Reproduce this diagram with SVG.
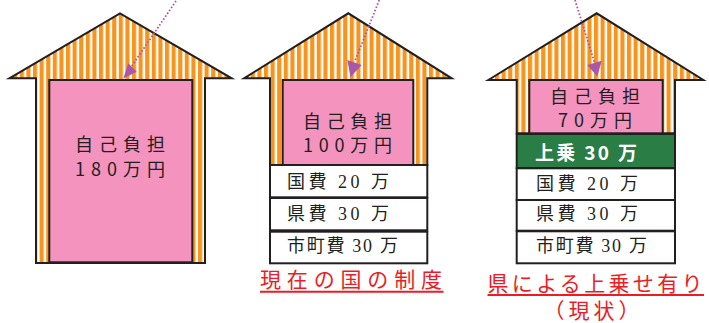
<svg xmlns="http://www.w3.org/2000/svg" width="709" height="323" viewBox="0 0 709 323">
<defs>
<pattern id="stripes" patternUnits="userSpaceOnUse" x="0" y="0" width="6.6" height="10">
<rect x="0" y="0" width="6.6" height="10" fill="#ffffff"/>
<rect x="0" y="0" width="3.8" height="10" fill="#f7941d"/>
<rect x="3.8" y="0" width="0.7" height="10" fill="#fbc88a"/>
</pattern>
<style>
.house{fill:url(#stripes);stroke:#231f20;stroke-width:2;stroke-linejoin:miter}
.pink{fill:#f393be;stroke:#231f20;stroke-width:2}
.box{fill:#ffffff;stroke:#231f20;stroke-width:2}
.green{fill:#2a7d45;stroke:#231f20;stroke-width:2}
.jp{font-family:"Noto Sans CJK JP","Noto Sans",sans-serif;font-size:18px;fill:#231f20}
.min{font-family:"Liberation Serif","Noto Sans CJK JP",serif;font-size:18px;fill:#231f20}
.wt{font-family:"Noto Sans CJK JP","Noto Sans",sans-serif;font-size:19px;font-weight:bold;fill:#ffffff}
.red{font-family:"Noto Sans CJK JP","Noto Sans",sans-serif;font-size:21px;fill:#ed1c24}
.ul{stroke:#ed1c24;stroke-width:2}
.dot{stroke:#a857a8;stroke-width:1.8;stroke-dasharray:1.6 1.9;fill:none}
.head{fill:#a958a8}
</style>
</defs>

<g id="house1">
<polygon class="house" points="9.3,78.3 120,13.3 231.7,78.3 205,78.3 205,263 36,263 36,78.3"/>
<rect class="pink" x="49.3" y="80" width="143" height="182.3"/>
<text class="jp" x="75" y="151" textLength="90" lengthAdjust="spacing">自己負担</text>
<text class="jp" x="75" y="175.5" textLength="90" lengthAdjust="spacing">180万円</text>
</g>

<g id="house2">
<polygon class="house" points="244,78.3 348.3,13.3 451.7,78.3 427.3,78.3 427.3,165 270,165 270,78.3"/>
<rect class="pink" x="282.7" y="80" width="130.6" height="85"/>
<text class="jp" x="303" y="128" textLength="89" lengthAdjust="spacing">自己負担</text>
<text class="jp" x="303" y="151.5" textLength="89" lengthAdjust="spacing">100万円</text>
</g>

<g id="box2-kuni">
<rect class="box" x="270" y="165" width="157.3" height="32.3"/>
<text class="min" x="287" y="187.5" textLength="102" lengthAdjust="spacing">国費 20 万</text>
</g>
<g id="box2-ken">
<rect class="box" x="270" y="198" width="157.3" height="32.3"/>
<text class="min" x="287" y="220" textLength="102" lengthAdjust="spacing">県費 30 万</text>
</g>
<g id="box2-shi">
<rect class="box" x="270" y="231.7" width="157.3" height="31.6"/>
<text class="min" x="287" y="252" textLength="111" lengthAdjust="spacing" font-size="17">市町費 30 万</text>
</g>
<g id="label2">
<text class="red" x="260" y="286.5" textLength="182" lengthAdjust="spacing">現在の国の制度</text>
<line class="ul" x1="260" y1="291.7" x2="443.5" y2="291.7"/>
</g>

<g id="house3">
<polygon class="house" points="488.3,80 596.7,13.3 703.3,80 675,80 675,133.3 516.7,133.3 516.7,80"/>
<rect class="pink" x="529.3" y="80" width="133.4" height="53.3"/>
<text class="jp" x="550" y="103" textLength="90" lengthAdjust="spacing">自己負担</text>
<text class="jp" x="558" y="126.5" textLength="74" lengthAdjust="spacing">70万円</text>
</g>

<g id="box3-uwanose">
<rect class="green" x="516.7" y="134" width="158.3" height="34"/>
<text class="wt" x="535" y="160" textLength="102" lengthAdjust="spacing">上乗 30 万</text>
</g>
<g id="box3-kuni">
<rect class="box" x="516.7" y="168.3" width="158.3" height="31.7"/>
<text class="min" x="536" y="190" textLength="102" lengthAdjust="spacing">国費 20 万</text>
</g>
<g id="box3-ken">
<rect class="box" x="516.7" y="200" width="158.3" height="30.7"/>
<text class="min" x="536" y="220" textLength="102" lengthAdjust="spacing">県費 30 万</text>
</g>
<g id="box3-shi">
<rect class="box" x="516.7" y="231.3" width="158.3" height="32"/>
<text class="min" x="536" y="252" textLength="111" lengthAdjust="spacing" font-size="17">市町費 30 万</text>
</g>
<g id="label3">
<text class="red" x="487.5" y="290.5" textLength="215" lengthAdjust="spacing">県による上乗せ有り</text>
<line class="ul" x1="487.5" y1="295" x2="704" y2="295"/>
<text class="red" x="593.5" y="318" text-anchor="middle" font-size="17" letter-spacing="4">（現状）</text>
</g>

<g id="connectors">
<line class="dot" x1="176" y1="1" x2="131.5" y2="66.5"/>
<polygon class="head" points="123.3,78.5 128.3,63.3 136.7,71.7"/>
<line class="dot" x1="379.3" y1="0" x2="354.5" y2="62"/>
<polygon class="head" points="350.5,77 347.3,60 361.7,65"/>
<line class="dot" x1="575" y1="0" x2="594.5" y2="62.5"/>
<polygon class="head" points="597.3,76.5 587.3,65 601.7,60.7"/>
</g>
</svg>
